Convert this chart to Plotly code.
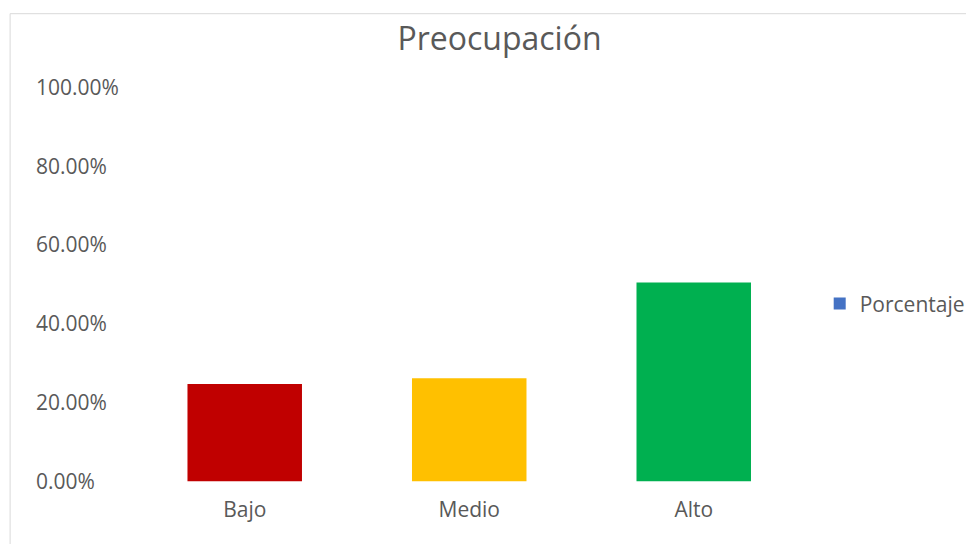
import plotly.graph_objects as go

categorias = ["Bajo", "Medio", "Alto"]
porcentajes = [0.247, 0.262, 0.505]
colores = ["#C00000", "#FFC000", "#00B050"]
ticks_y = [0, 0.2, 0.4, 0.6, 0.8, 1.0]

gris = "#595959"
fuente = "Open Sans"

fig = go.Figure()

# barras reales (sin leyenda, los colores van por barra)
fig.add_trace(go.Bar(
    x=categorias, y=porcentajes,
    marker=dict(color=colores, line=dict(width=0)),
    showlegend=False, name="Porcentaje",
))

# entrada de leyenda en azul como en Excel
fig.add_trace(go.Bar(
    x=[categorias[0]], y=[None],
    marker=dict(color="#4472C4", line=dict(width=0)),
    name="Porcentaje", showlegend=True,
))

fig.update_layout(
    width=974, height=544,
    paper_bgcolor="white", plot_bgcolor="white",
    margin=dict(l=24, r=172, t=60, b=51),
    barmode="overlay",
    bargap=0.49,
    font=dict(family=fuente, color=gris, size=21),
    title=dict(text="Preocupación", x=491.5 / 974, xanchor="center",
               y=1 - 31 / 544, yanchor="middle",
               font=dict(size=32, color=gris, family=fuente)),
    legend=dict(x=1.0177, xanchor="left", y=0.4555, yanchor="middle",
                font=dict(size=21, color=gris), bgcolor="rgba(0,0,0,0)"),
    xaxis=dict(domain=[0.1298, 1], anchor="free", position=0.015,
               showgrid=False, showline=False,
               zeroline=False, ticks="", tickfont=dict(size=21, color=gris)),
    yaxis=dict(range=[-0.05, 1.05], tickvals=ticks_y, tickformat=".2%",
               anchor="free", position=0, ticklabelposition="inside",
               showgrid=False, showline=False, zeroline=False, ticks="",
               tickfont=dict(size=21, color=gris)),
    shapes=[dict(type="rect", xref="paper", yref="paper",
                 x0=-0.0283, x1=1.5, y0=-0.5, y1=1.1254,
                 line=dict(color="#D9D9D9", width=1), fillcolor="rgba(0,0,0,0)",
                 layer="below")],
)

fig.write_html("out.html")
